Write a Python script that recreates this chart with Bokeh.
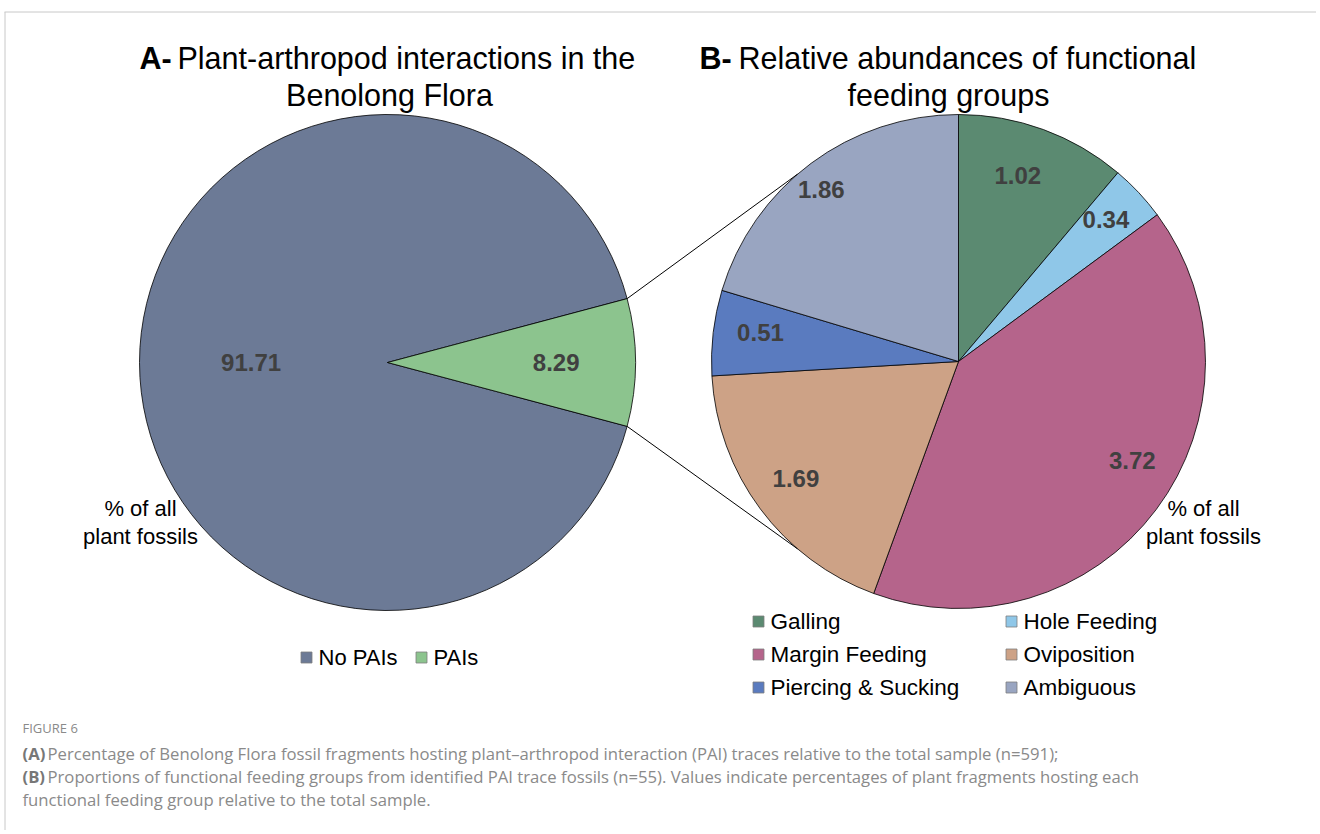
import numpy as np
from bokeh.plotting import figure
from bokeh.models import Range1d, ColumnDataSource
from bokeh.core.properties import value
from bokeh.embed import file_html
from bokeh.resources import INLINE

# ---------------- data ----------------
a_categories = ["No PAIs", "PAIs"]
a_values = [91.71, 8.29]
a_labels = ["91.71", "8.29"]
a_colors = ["#6c7a96", "#8cc48e"]

b_categories = ["Galling", "Hole Feeding", "Margin Feeding",
                "Oviposition", "Piercing & Sucking", "Ambiguous"]
b_values = [1.02, 0.34, 3.72, 1.69, 0.51, 1.86]
b_labels = ["1.02", "0.34", "3.72", "1.69", "0.51", "1.86"]
b_colors = ["#5b8a71", "#8fc7e8", "#b5648b", "#cda286", "#5a7bbf", "#99a5c1"]

title_a = ["A-", "Plant-arthropod interactions in the", "Benolong Flora"]
title_b = ["B-", "Relative abundances of functional", "feeding groups"]
axis_note = ["% of all", "plant fossils"]
caption_head = "FIGURE 6"
caption_bold = ["(A)", "(B)"]
caption_lines = [
    "Percentage of Benolong Flora fossil fragments hosting plant\u2013arthropod interaction (PAI) traces relative to the total sample (n=591);",
    "Proportions of functional feeding groups from identified PAI trace fossils (n=55). Values indicate percentages of plant fragments hosting each",
    "functional feeding group relative to the total sample.",
]

# ---------------- layout ----------------
W, H = 1316, 830
FONT = value("Liberation Sans")
CAP_FONT = value("Open Sans")

# label placement tuning (radius fraction, angular nudge in degrees)
a_rfrac = np.array([0.55, 0.68])
b_rfrac = np.array([0.79, 0.83, 0.81, 0.81, 0.81, 0.89])
b_nudge = np.deg2rad(np.array([2.4, 0.9, 7.1, -1.0, -1.5, 2.0]))


def Y(sy):
    # screen pixel row -> data y
    return H - sy


p = figure(width=W, height=H, x_range=Range1d(0, W), y_range=Range1d(0, H),
           output_backend="svg", toolbar_location=None, min_border=0)
p.axis.visible = False
p.grid.visible = False
p.outline_line_color = None
p.background_fill_color = "white"

# frame lines
p.line(x=[4, W], y=[Y(11.5), Y(11.5)], line_color="#c8c8c8", line_width=1)
p.line(x=[4.5, 4.5], y=[Y(11.5), Y(H)], line_color="#c8c8c8", line_width=1)

# ---------------- pie A ----------------
ax, ay, ar = 387, Y(362), 248
af = np.array(a_values) / np.sum(a_values)
theta0 = np.pi * af[1]
acum = np.cumsum(af)
a_start = theta0 + 2 * np.pi * (acum - af)
a_end = theta0 + 2 * np.pi * acum
src_a = ColumnDataSource(dict(start=a_start, end=a_end, color=a_colors, cat=a_categories))
p.wedge(x=ax, y=ay, radius=ar, start_angle="start", end_angle="end",
        fill_color="color", line_color="black", line_width=0.8, source=src_a)

a_mid = (a_start + a_end) / 2
p.text(x=ax + ar * a_rfrac * np.cos(a_mid), y=ay + ar * a_rfrac * np.sin(a_mid), text=a_labels,
       text_font=FONT, text_font_size="24px", text_font_style="bold", text_color="#404040",
       text_align="center", text_baseline="middle")

# ---------------- pie B ----------------
bx, by, br = 958, Y(361), 247
bf = np.array(b_values) / np.sum(b_values)
bcum = np.cumsum(bf)
b_start = np.pi / 2 - 2 * np.pi * bcum
b_end = np.pi / 2 - 2 * np.pi * (bcum - bf)
src_b = ColumnDataSource(dict(start=b_start, end=b_end, color=b_colors, cat=b_categories))
p.wedge(x=bx, y=by, radius=br, start_angle="start", end_angle="end",
        fill_color="color", line_color="black", line_width=0.8, source=src_b)

b_mid = (b_start + b_end) / 2 + b_nudge
p.text(x=bx + br * b_rfrac * np.cos(b_mid), y=by + br * b_rfrac * np.sin(b_mid), text=b_labels,
       text_font=FONT, text_font_size="24px", text_font_style="bold", text_color="#404040",
       text_align="center", text_baseline="middle")

# ---------------- connectors ----------------
conn = np.deg2rad(130.7)
for s in (1, -1):
    x0 = ax + ar * np.cos(s * theta0)
    y0 = ay + ar * np.sin(s * theta0)
    x1 = bx + br * np.cos(s * conn)
    y1 = by + br * np.sin(s * conn)
    p.line(x=[x0, x1], y=[y0, y1], line_color="black", line_width=1)

# ---------------- titles ----------------
TS = "30.5px"
p.text(x=[139], y=[Y(57)], text=[title_a[0]], text_font=FONT, text_font_size=TS,
       text_font_style="bold", text_color="black", text_baseline="middle", text_align="left")
p.text(x=[177], y=[Y(57)], text=[title_a[1]], text_font=FONT, text_font_size=TS,
       text_color="black", text_baseline="middle", text_align="left")
p.text(x=[389], y=[Y(94)], text=[title_a[2]], text_font=FONT, text_font_size=TS,
       text_color="black", text_baseline="middle", text_align="center")

p.text(x=[699], y=[Y(57)], text=[title_b[0]], text_font=FONT, text_font_size=TS,
       text_font_style="bold", text_color="black", text_baseline="middle", text_align="left")
p.text(x=[738], y=[Y(57)], text=[title_b[1]], text_font=FONT, text_font_size=TS,
       text_color="black", text_baseline="middle", text_align="left")
p.text(x=[948], y=[Y(94)], text=[title_b[2]], text_font=FONT, text_font_size=TS,
       text_color="black", text_baseline="middle", text_align="center")

# "% of all plant fossils" notes
for cx in (140, 1203):
    p.text(x=[cx, cx], y=[Y(508), Y(536)], text=axis_note, text_font=FONT, text_font_size="22px",
           text_color="black", text_baseline="middle", text_align="center")

# ---------------- legends ----------------
la_x = [306, 421]
la_tx = [318, 433]
p.scatter(x=la_x, y=[Y(657)] * 2, marker="square", size=11, fill_color=a_colors,
          line_color="#7f7f7f", line_width=0.8)
p.text(x=la_tx, y=[Y(657)] * 2, text=a_categories, text_font=FONT, text_font_size="22px",
       text_color="black", text_baseline="middle", text_align="left")

lb_sq = [758, 1011]
lb_tx = [770, 1023]
lb_rows = [621, 654, 687]
lbx, lby, lbtx = [], [], []
for i in range(len(b_categories)):
    lbx.append(lb_sq[i % 2])
    lbtx.append(lb_tx[i % 2])
    lby.append(Y(lb_rows[i // 2]))
p.scatter(x=lbx, y=lby, marker="square", size=11, fill_color=b_colors,
          line_color="#7f7f7f", line_width=0.8)
p.text(x=lbtx, y=lby, text=b_categories, text_font=FONT, text_font_size="22.5px",
       text_color="black", text_baseline="middle", text_align="left")

# ---------------- caption ----------------
p.text(x=[22], y=[Y(727)], text=[caption_head], text_font=CAP_FONT, text_font_size="13px",
       text_color="#8a8a8a", text_baseline="middle", text_align="left")
cap_y = [753, 776, 799]
p.text(x=[22, 22], y=[Y(cap_y[0]), Y(cap_y[1])], text=caption_bold, text_font=CAP_FONT,
       text_font_size="16.7px", text_font_style="bold", text_color="#777777",
       text_baseline="middle", text_align="left")
p.text(x=[47, 47, 22], y=[Y(v) for v in cap_y], text=caption_lines, text_font=CAP_FONT,
       text_font_size="16.7px", text_color="#8a8a8a", text_baseline="middle", text_align="left")

open("out.html", "w").write(file_html(p, INLINE))
